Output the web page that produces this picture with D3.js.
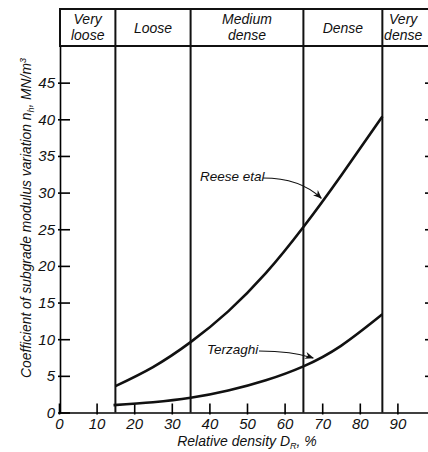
<!DOCTYPE html>
<html>
<head>
<meta charset="utf-8">
<script src="https://cdn.jsdelivr.net/npm/d3@7"></script>
<style>
  body { margin: 0; background: #fff; }
  text { font-family: "Liberation Sans", Arial, sans-serif; font-style: italic; fill: #111; }
</style>
</head>
<body>
<div id="svg-container"></div>
<script>
// data
const densityClasses = [
    { lines: ['Very', 'loose'], from: 0, to: 15 },
    { lines: ['Loose'], from: 15, to: 35 },
    { lines: ['Medium', 'dense'], from: 35, to: 65 },
    { lines: ['Dense'], from: 65, to: 86 },
    { lines: ['Very', 'dense'], from: 86, to: 100 }
]
const classBounds = [15, 35, 65, 86]
const xTicks = [0, 10, 20, 30, 40, 50, 60, 70, 80, 90]
const yTicks = [0, 5, 10, 15, 20, 25, 30, 35, 40, 45]

const reeseDr = [15, 25, 35, 45, 55, 65, 75, 86]
const reeseNh = [3.6, 6.2, 9.6, 13.8, 19.0, 25.3, 32.3, 40.4]
const terzaghiDr = [14.5, 25, 35, 45, 55, 65, 75, 86]
const terzaghiNh = [1.0, 1.4, 2.0, 3.0, 4.4, 6.3, 9.1, 13.4]

// dimensions
const dim = { width: 428, height: 452 }

const svg = d3.select('#svg-container')
    .append('svg')
    .attr('width', dim.width)
    .attr('height', dim.height)

// scales
const xScale = d3.scaleLinear().domain([0, 100]).range([59, 435])
const yScale = d3.scaleLinear().domain([0, 50]).range([412.5, 46])

const headerTop = 9

// header box
svg.append('rect')
    .attr('x', xScale(0) + 1)
    .attr('y', headerTop)
    .attr('width', 440 - xScale(0))
    .attr('height', yScale(50) - headerTop)
    .attr('fill', 'none')
    .attr('stroke', '#111')
    .attr('stroke-width', 2)

densityClasses.forEach(c => {
    const cx = (Math.max(xScale(c.from), 60) + Math.min(xScale(c.to), 424)) / 2
    const t = svg.append('text')
        .attr('text-anchor', 'middle')
        .attr('font-size', 14)
    if (c.lines.length === 2) {
        t.append('tspan').attr('x', cx).attr('y', 24).text(c.lines[0])
        t.append('tspan').attr('x', cx).attr('y', 40).text(c.lines[1])
    } else {
        t.append('tspan').attr('x', cx).attr('y', 33).text(c.lines[0])
    }
})

// class boundary lines
svg.selectAll('.bound')
    .data(classBounds)
    .join('line')
    .attr('x1', d => xScale(d))
    .attr('x2', d => xScale(d))
    .attr('y1', headerTop)
    .attr('y2', yScale(0))
    .attr('stroke', '#111')
    .attr('stroke-width', 2)

// axes
const xAxis = svg.append('g')
    .attr('transform', `translate(0, ${yScale(0)})`)
    .call(d3.axisBottom(xScale).tickValues(xTicks).tickSize(-9).tickSizeOuter(0).tickPadding(6))
xAxis.select('.domain').attr('stroke-width', 1.6)
xAxis.selectAll('.tick line').attr('stroke-width', 1.6).attr('y2', -9).attr('y1', 2)
xAxis.selectAll('.tick text').attr('font-size', 15).attr('font-family', null).attr('fill', '#111')

const yAxis = svg.append('g')
    .attr('transform', `translate(${xScale(0) + 1}, 0)`)
    .call(d3.axisLeft(yScale).tickValues(yTicks).tickSize(-10).tickSizeOuter(0).tickPadding(5))
yAxis.select('.domain').attr('stroke-width', 1.6)
yAxis.selectAll('.tick line').attr('stroke-width', 1.6).attr('x1', -2)
yAxis.selectAll('.tick text').attr('font-size', 15).attr('font-family', null).attr('fill', '#111')

const rightAxis = svg.append('g')
    .attr('transform', `translate(${xScale(100)}, 0)`)
    .call(d3.axisRight(yScale).tickValues(yTicks.slice(1)).tickSize(-10).tickSizeOuter(0).tickFormat(''))
rightAxis.selectAll('.tick line').attr('stroke-width', 1.6)

// curves
const line = d3.line()
    .x(d => xScale(d[0]))
    .y(d => yScale(d[1]))
    .curve(d3.curveNatural)

svg.append('path')
    .datum(reeseDr.map((d, i) => [d, reeseNh[i]]))
    .attr('d', line)
    .attr('fill', 'none')
    .attr('stroke', '#111')
    .attr('stroke-width', 2.6)

svg.append('path')
    .datum(terzaghiDr.map((d, i) => [d, terzaghiNh[i]]))
    .attr('d', line)
    .attr('fill', 'none')
    .attr('stroke', '#111')
    .attr('stroke-width', 2.6)

// labels with leader arrows
svg.append('defs').append('marker')
    .attr('id', 'arrow')
    .attr('viewBox', '0 0 10 10')
    .attr('refX', 9)
    .attr('refY', 5)
    .attr('markerWidth', 9)
    .attr('markerHeight', 9)
    .attr('markerUnits', 'userSpaceOnUse')
    .attr('orient', 'auto')
    .append('path')
    .attr('d', 'M0,1 L10,5 L0,9 L3,5 Z')
    .attr('fill', '#111')

svg.append('text')
    .attr('x', 200).attr('y', 181)
    .attr('font-size', 13.5)
    .text('Reese etal')

svg.append('path')
    .attr('d', `M263,178 Q300,178 ${xScale(70) - 1},${yScale(29.1) - 1}`)
    .attr('fill', 'none')
    .attr('stroke', '#111')
    .attr('stroke-width', 1.2)
    .attr('marker-end', 'url(#arrow)')

svg.append('text')
    .attr('x', 207).attr('y', 354)
    .attr('font-size', 13.5)
    .text('Terzaghi')

svg.append('path')
    .attr('d', `M259,351 Q292,351 ${xScale(67.6)},${yScale(7.3) - 1}`)
    .attr('fill', 'none')
    .attr('stroke', '#111')
    .attr('stroke-width', 1.2)
    .attr('marker-end', 'url(#arrow)')

// axis titles
const yTitle = svg.append('text')
    .attr('transform', `translate(31, 218) rotate(-90)`)
    .attr('text-anchor', 'middle')
    .attr('font-size', 13.8)
yTitle.append('tspan').text('Coefficient of subgrade modulus variation n')
yTitle.append('tspan').attr('font-size', 9).attr('dy', 3).text('h')
yTitle.append('tspan').attr('dy', -3).text(', MN/m')
yTitle.append('tspan').attr('font-size', 9).attr('dy', -5).text('3')

const xTitle = svg.append('text')
    .attr('x', 247).attr('y', 446)
    .attr('text-anchor', 'middle')
    .attr('font-size', 14)
xTitle.append('tspan').text('Relative density D')
xTitle.append('tspan').attr('font-size', 9).attr('dy', 3).text('R')
xTitle.append('tspan').attr('dy', -3).text(', %')
</script>
</body>
</html>
